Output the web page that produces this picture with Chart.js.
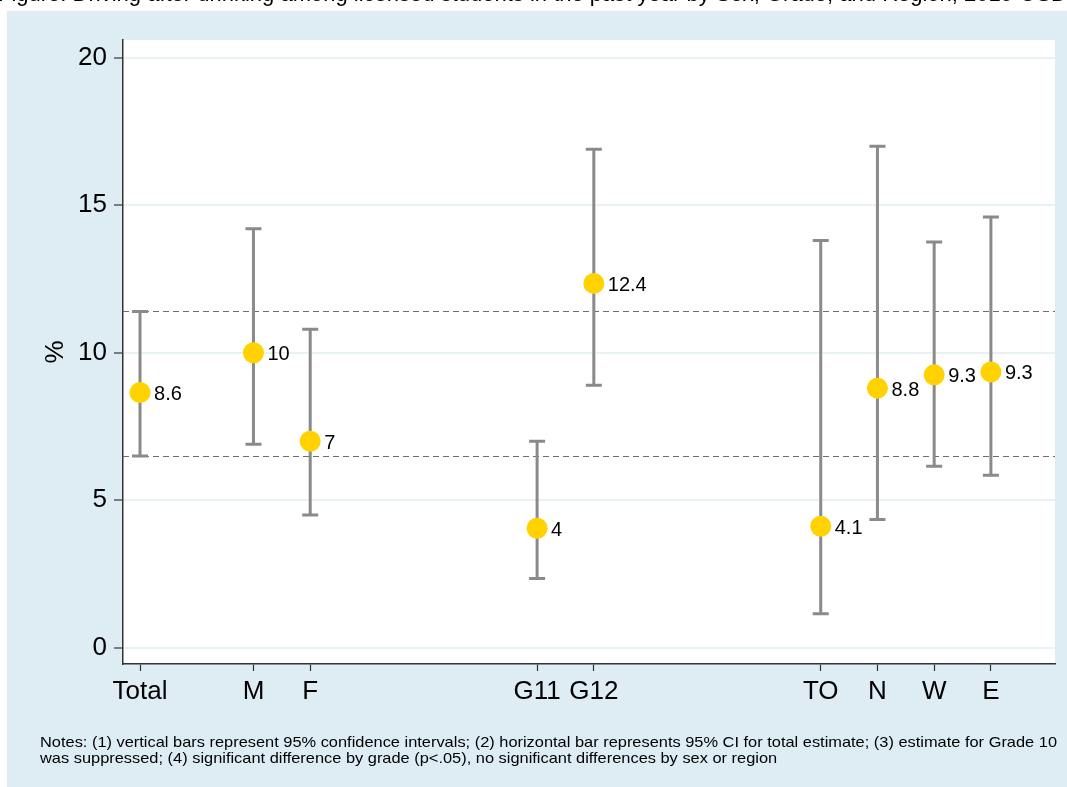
<!DOCTYPE html>
<html>
<head>
<meta charset="utf-8">
<script src="https://cdn.jsdelivr.net/npm/chart.js@4.4.1/dist/chart.umd.min.js"></script>
<style>
  html, body { margin: 0; padding: 0; background: #ffffff; }
  #wrap { position: relative; width: 1067px; height: 787px; }
  canvas { display: block; }
</style>
</head>
<body>
<div id="wrap"><canvas id="c" width="1067" height="787"></canvas></div>
<script>
// ---- data ----
const categories = ["Total", "M", "F", "G11", "G12", "TO", "N", "W", "E"];
const positions  = [0, 2, 3, 7, 8, 12, 13, 14, 15];
const estimates  = [8.65, 10.0, 7.0, 4.05, 12.35, 4.12, 8.8, 9.25, 9.35];
const valueLabels = ["8.6", "10", "7", "4", "12.4", "4.1", "8.8", "9.3", "9.3"];
const ciLow  = [6.5, 6.9, 4.5, 2.35, 8.9, 1.15, 4.35, 6.15, 5.85];
const ciHigh = [11.4, 14.2, 10.8, 7.0, 16.9, 13.8, 17.0, 13.75, 14.6];
const totalCI = [6.5, 11.4];
const yTicks = [0, 5, 10, 15, 20];
const titleText = "Figure: Driving after drinking among licensed students in the past year by Sex, Grade, and Region, 2019 OSDUHS";
const notesLines = [
  "Notes: (1) vertical bars represent 95% confidence intervals; (2) horizontal bar represents 95% CI for total estimate; (3) estimate for Grade 10",
  "was suppressed; (4) significant difference by grade (p<.05), no significant differences by sex or region"
];

const FONT = "'Liberation Sans', Arial, Helvetica, sans-serif";

const bgPlugin = {
  id: 'bg',
  beforeDraw(chart) {
    const ctx = chart.ctx;
    const a = chart.chartArea;
    ctx.save();
    ctx.fillStyle = '#ffffff';
    ctx.fillRect(0, 0, chart.width, chart.height);
    ctx.fillStyle = '#deedf4';
    ctx.fillRect(7, 11, chart.width - 7, chart.height - 11);
    ctx.fillStyle = '#ffffff';
    ctx.fillRect(a.left, a.top, a.right - a.left, a.bottom - a.top);
    // clipped title (only its lowest pixels show, as in the reference)
    ctx.fillStyle = '#000000';
    ctx.font = "22px " + FONT;
    ctx.textBaseline = 'alphabetic';
    ctx.textAlign = 'left';
    ctx.fillText(titleText, -2, 0.5);
    // notes, fitted to the reference width
    ctx.font = "15px " + FONT;
    const w = ctx.measureText(notesLines[0]).width;
    const sx = 1017 / w;
    ctx.save();
    ctx.translate(40, 0);
    ctx.scale(sx, 1);
    ctx.fillText(notesLines[0], 0, 747);
    ctx.fillText(notesLines[1], 0, 763);
    ctx.restore();
    ctx.restore();
  }
};

const errPlugin = {
  id: 'err',
  beforeDatasetsDraw(chart) {
    const ctx = chart.ctx;
    const xs = chart.scales.x, ys = chart.scales.y;
    const a = chart.chartArea;
    ctx.save();
    ctx.strokeStyle = '#6e6e6e';
    ctx.lineWidth = 1.2;
    ctx.setLineDash([6, 4]);
    totalCI.forEach(v => {
      const y = Math.round(ys.getPixelForValue(v)) + 0.5;
      ctx.beginPath();
      ctx.moveTo(a.left, y);
      ctx.lineTo(a.right, y);
      ctx.stroke();
    });
    ctx.setLineDash([]);
    ctx.strokeStyle = '#8a8a8a';
    ctx.lineWidth = 3;
    positions.forEach((p, i) => {
      const x = xs.getPixelForValue(p);
      const y1 = ys.getPixelForValue(ciLow[i]);
      const y2 = ys.getPixelForValue(ciHigh[i]);
      ctx.beginPath();
      ctx.moveTo(x, y1); ctx.lineTo(x, y2);
      ctx.moveTo(x - 8, y1); ctx.lineTo(x + 8, y1);
      ctx.moveTo(x - 8, y2); ctx.lineTo(x + 8, y2);
      ctx.stroke();
    });
    ctx.restore();
  },
  afterDatasetsDraw(chart) {
    const ctx = chart.ctx;
    const meta = chart.getDatasetMeta(0);
    ctx.save();
    ctx.fillStyle = '#000000';
    ctx.font = "20px " + FONT;
    ctx.textAlign = 'left';
    ctx.textBaseline = 'middle';
    meta.data.forEach((pt, i) => {
      ctx.fillText(valueLabels[i], pt.x + 14, pt.y + 2);
    });
    ctx.restore();
  }
};

new Chart(document.getElementById('c'), {
  type: 'scatter',
  data: {
    datasets: [{
      data: positions.map((p, i) => ({ x: p, y: estimates[i] })),
      pointRadius: 10.5,
      pointHoverRadius: 10.5,
      pointBackgroundColor: '#ffd200',
      pointBorderColor: '#ffd200',
      pointBorderWidth: 0,
      showLine: false
    }]
  },
  options: {
    responsive: false,
    animation: false,
    devicePixelRatio: 1,
    events: [],
    layout: { padding: { left: 0, right: 12, top: 40, bottom: 73 } },
    plugins: { legend: { display: false }, tooltip: { enabled: false }, title: { display: false } },
    scales: {
      x: {
        type: 'linear',
        min: -0.3,
        max: 16.13,
        afterBuildTicks(scale) { scale.ticks = positions.map(v => ({ value: v })); },
        afterFit(scale) { scale.height = 50; },
        ticks: {
          autoSkip: false,
          maxRotation: 0,
          padding: 5,
          color: '#000000',
          font: { family: FONT, size: 26 },
          callback: (v) => { const i = positions.indexOf(v); return i >= 0 ? categories[i] : ''; }
        },
        grid: { drawOnChartArea: false, drawTicks: true, tickLength: 7, tickColor: '#333333', tickWidth: 1.2 },
        border: { display: true, color: '#333333', width: 1.5 }
      },
      y: {
        type: 'linear',
        min: -0.55,
        max: 20.6,
        afterBuildTicks(scale) { scale.ticks = yTicks.map(v => ({ value: v })); },
        afterFit(scale) { scale.width = 123; },
        ticks: {
          padding: 7,
          color: '#000000',
          font: { family: FONT, size: 26 },
          callback: (v) => String(v)
        },
        grid: { color: '#e8f1f3', lineWidth: 2, drawTicks: true, tickLength: 9, tickColor: '#333333', tickWidth: 1.2 },
        border: { display: true, color: '#333333', width: 1.5 },
        title: { display: true, text: '%', color: '#000000', font: { family: FONT, size: 26 }, padding: { top: 40, bottom: 0 } }
      }
    }
  },
  plugins: [bgPlugin, errPlugin]
});
</script>
</body>
</html>
